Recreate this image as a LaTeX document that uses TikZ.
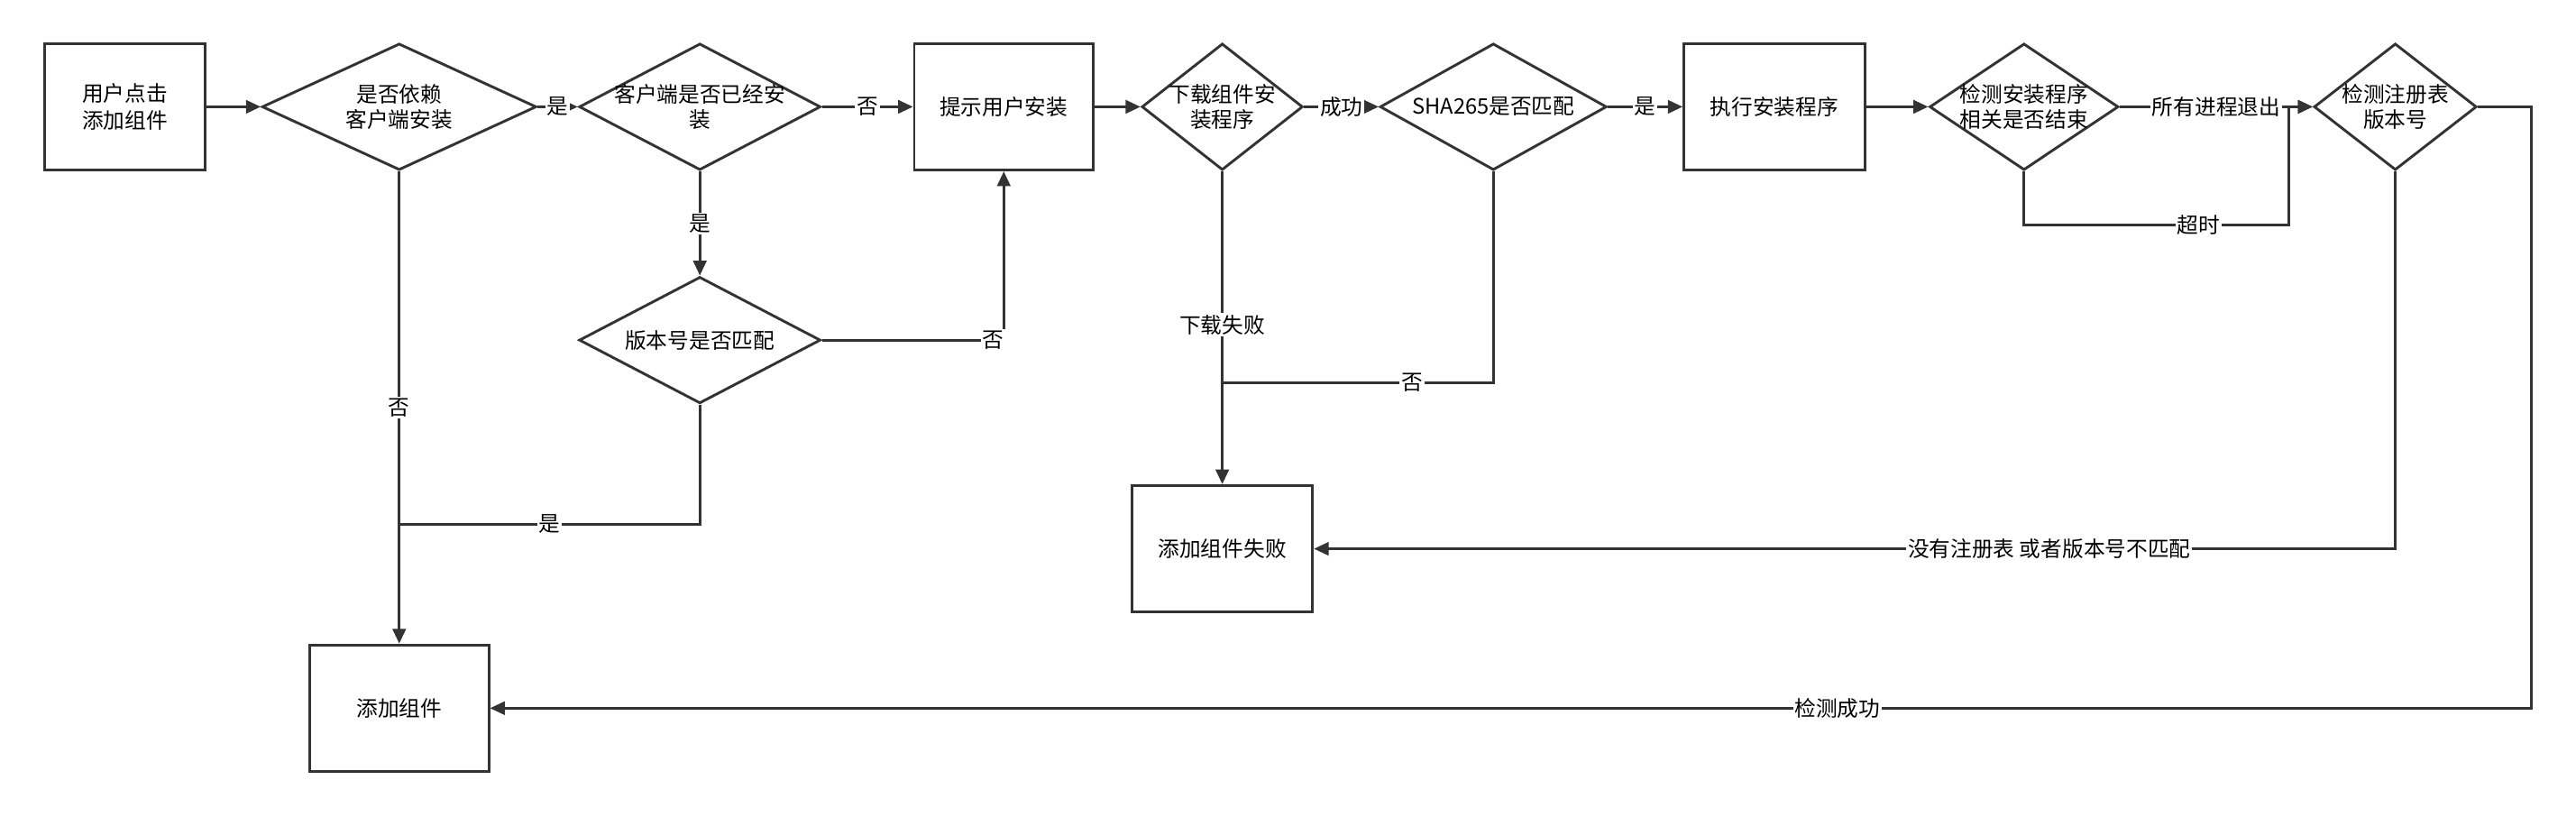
\documentclass[tikz,border=0pt]{standalone}
\usepackage{fontspec}
\setmainfont{Noto Sans CJK SC}
\usetikzlibrary{shapes.geometric,arrows.meta}
\begin{document}
\begin{tikzpicture}[x=1pt,y=-1pt,
  line width=1.6pt, draw=black!80,
  box/.style={draw, minimum width=110pt, minimum height=77pt, inner sep=0, font=\fontsize{13}{16}\selectfont, align=center},
  dia/.style={draw, diamond, inner sep=0, minimum width=#1, minimum height=77pt},
  dl/.style={font=\fontsize{13}{15}\selectfont, align=center},
  arr/.style={-{Triangle[length=9pt,width=8pt]}},
  lab/.style={fill=white, inner sep=1pt, font=\fontsize{13}{15}\selectfont}]
\useasboundingbox[fill=white] (0,0) rectangle (1568,497);
\node[box, minimum width=98pt] (n1) at (76,65) {用户点击\\添加组件};
\node[dia=167pt] (d1) at (243,65) {};
\node[dl] at (d1) {是否依赖\\客户端安装};
\node[dia=147pt] (d2) at (426,65) {};
\node[dl] at (d2) {客户端是否已经安\\装};
\node[box, minimum width=109pt] (n2) at (611,65) {提示用户安装};
\node[dia=98pt] (d3) at (744,65) {};
\node[dl] at (d3) {下载组件安\\装程序};
\node[dia=138pt] (d4) at (909,65) {};
\node[dl] at (d4) {SHA265是否匹配};
\node[box] (n3) at (1080,65) {执行安装程序};
\node[dia=115pt] (d5) at (1232,65) {};
\node[dl] at (d5) {检测安装程序\\相关是否结束};
\node[dia=99pt] (d6) at (1458,65) {};
\node[dl] at (d6) {检测注册表\\版本号};
\node[dia=147pt] (d7) at (426,207) {};
\node[dl] at (d7) {版本号是否匹配};
\node[box] (n4) at (744,334) {添加组件失败};
\node[box, minimum width=109pt] (n5) at (243,431) {添加组件};

\draw[arr] (n1) -- (d1);
\draw[arr] (d1) -- node[lab]{是} (d2);
\draw[arr] (d2) -- node[lab]{否} (n2);
\draw[arr] (n2) -- (d3);
\draw[arr] (d3) -- node[lab]{成功} (d4);
\draw[arr] (d4) -- node[lab]{是} (n3);
\draw[arr] (n3) -- (d5);
\draw[arr] (d5) -- node[lab, pos=0.5]{所有进程退出} (d6);
\coordinate (t1) at (1393,137);
\draw[arr] (d5.south) |- node[lab, pos=0.83]{超时} (t1) |- (d6.west);
\draw[arr] (d1.south) -- node[lab, pos=0.5]{否} (n5.north);
\draw[arr] (d2.south) -- node[lab]{是} (d7.north);
\draw[arr] (d7.east) -| node[lab, pos=0.47]{否} (n2.south);
\coordinate (j1) at (243,319);
\draw (d7.south) |- node[lab, pos=0.75]{是} (j1);
\draw[arr] (d3.south) -- node[lab, pos=0.49]{下载失败} (n4.north);
\coordinate (j2) at (744,233);
\draw (d4.south) |- node[lab, pos=0.65]{否} (j2);
\draw[arr] (d6.south) |- node[lab, pos=0.66]{没有注册表 或者版本号不匹配} (n4.east);
\coordinate (c1) at (1541,65);
\draw[arr] (d6.east) -- (c1) |- node[lab, pos=0.67]{检测成功} (n5.east);
\end{tikzpicture}
\end{document}
